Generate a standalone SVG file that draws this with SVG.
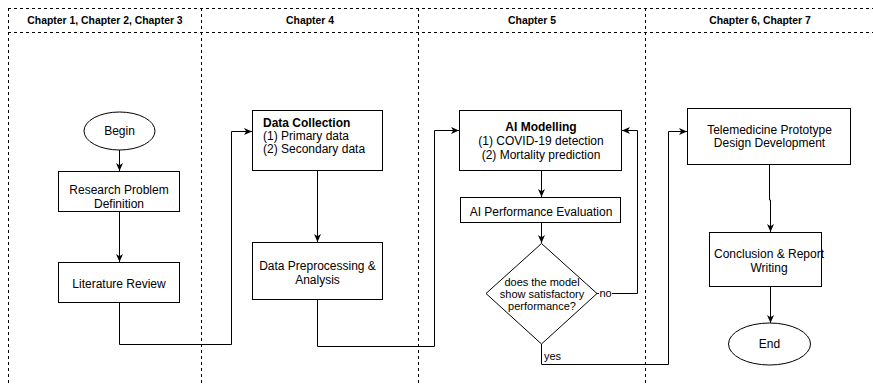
<svg xmlns="http://www.w3.org/2000/svg" width="873" height="384" viewBox="0 0 873 384">
<style>
.bg{fill:#fff}
.lane{stroke:#000;stroke-width:1;stroke-dasharray:3 3;fill:none}
.hdr{font-family:"Liberation Sans",Arial,sans-serif;font-size:10.4px;font-weight:bold;fill:#000;text-anchor:middle}
.box{fill:#fff;stroke:#000;stroke-width:1}
.t{font-family:"Liberation Sans",Arial,sans-serif;font-size:12px;fill:#000;text-anchor:middle}
.tl{font-family:"Liberation Sans",Arial,sans-serif;font-size:12px;fill:#000}
.b{font-weight:bold}
.s{font-family:"Liberation Sans",Arial,sans-serif;font-size:11px;fill:#000;text-anchor:middle}
.sl{font-family:"Liberation Sans",Arial,sans-serif;font-size:11px;fill:#000}
.c{fill:none;stroke:#000;stroke-width:1;marker-end:url(#arr)}
</style>
<defs>
<marker id="arr" viewBox="0 0 8 8" refX="8" refY="4" markerWidth="8" markerHeight="8" markerUnits="userSpaceOnUse" orient="auto">
<path d="M0,0.5 L8,4 L0,7.5 L2.2,4 Z" fill="#000"/>
</marker>
</defs>
<rect class="bg" x="0" y="0" width="873" height="384"/>
<g id="lanes">
<line class="lane" x1="8" y1="8.5" x2="873" y2="8.5"/>
<line class="lane" x1="8" y1="32.5" x2="873" y2="32.5"/>
<line class="lane" x1="8.5" y1="8" x2="8.5" y2="384"/>
<line class="lane" x1="201.5" y1="8" x2="201.5" y2="384"/>
<line class="lane" x1="418.5" y1="8" x2="418.5" y2="384"/>
<line class="lane" x1="645.5" y1="8" x2="645.5" y2="384"/>
<text class="hdr" x="105" y="24">Chapter 1, Chapter 2, Chapter 3</text>
<text class="hdr" x="310" y="24">Chapter 4</text>
<text class="hdr" x="532" y="24">Chapter 5</text>
<text class="hdr" x="760" y="24">Chapter 6, Chapter 7</text>
</g>
<g id="connectors">
<path class="c" d="M119.5,150 L119.5,171"/>
<path class="c" d="M119.5,212 L119.5,262"/>
<path class="c" d="M119.5,303 L119.5,344.5 L231.5,344.5 L231.5,131.5 L252,131.5"/>
<path class="c" d="M317.5,171 L317.5,242"/>
<path class="c" d="M317.5,300 L317.5,346.5 L434.5,346.5 L434.5,130.5 L459,130.5"/>
<path class="c" d="M541.5,171 L541.5,197"/>
<path class="c" d="M541.5,223 L541.5,243"/>
<path class="c" d="M597,293.5 L637.5,293.5 L637.5,130.5 L622,130.5"/>
<path class="c" d="M541.5,344 L541.5,364.5 L668.5,364.5 L668.5,131.5 L687,131.5"/>
<path class="c" d="M769.5,165 L769.5,200 L770.5,200 L770.5,232"/>
<path class="c" d="M770.5,287 L770.5,323"/>
<rect x="599" y="287" width="13" height="12" fill="#fff"/>
<text class="sl" x="599.5" y="297">no</text>
<text class="sl" x="544" y="360">yes</text>
</g>
<g id="begin">
<ellipse class="box" cx="119.5" cy="131" rx="35.5" ry="19"/>
<text class="t" x="119.5" y="135">Begin</text>
</g>
<g id="research">
<rect class="box" x="58.5" y="171.5" width="121" height="40"/>
<text class="t" x="119" y="194">Research Problem</text>
<text class="t" x="119" y="207.5">Definition</text>
</g>
<g id="literature">
<rect class="box" x="58.5" y="262.5" width="121" height="40"/>
<text class="t" x="119" y="287.5">Literature Review</text>
</g>
<g id="datacollection">
<rect class="box" x="252.5" y="110.5" width="130" height="60"/>
<text class="tl b" x="263" y="126.5">Data Collection</text>
<text class="tl" x="263" y="139.5">(1) Primary data</text>
<text class="tl" x="263" y="152.5">(2) Secondary data</text>
</g>
<g id="datapreprocessing">
<rect class="box" x="252.5" y="242.5" width="130" height="57"/>
<text class="t" x="317.5" y="270">Data Preprocessing &amp;</text>
<text class="t" x="317.5" y="284">Analysis</text>
</g>
<g id="aimodelling">
<rect class="box" x="459.5" y="110.5" width="162" height="60"/>
<text class="t b" x="541" y="131">AI Modelling</text>
<text class="t" x="541" y="145">(1) COVID-19 detection</text>
<text class="t" x="541" y="158.5">(2) Mortality prediction</text>
</g>
<g id="aiperformance">
<rect class="box" x="460.5" y="197.5" width="160" height="25"/>
<text class="t" x="541" y="215.5">AI Performance Evaluation</text>
</g>
<g id="decision">
<polygon class="box" points="541.5,243.5 597,293.5 541.5,344 486,293.5"/>
<text class="s" x="542" y="286">does the model</text>
<text class="s" x="542" y="298">show satisfactory</text>
<text class="s" x="542" y="310">performance?</text>
</g>
<g id="telemedicine">
<rect class="box" x="687.5" y="108.5" width="163" height="56"/>
<text class="t" x="769.5" y="134">Telemedicine Prototype</text>
<text class="t" x="769.5" y="147">Design Development</text>
</g>
<g id="conclusion">
<rect class="box" x="709.5" y="232.5" width="112" height="54"/>
<text class="t" x="769" y="258">Conclusion &amp; Report</text>
<text class="t" x="769" y="272">Writing</text>
</g>
<g id="end">
<ellipse class="box" cx="769.5" cy="344" rx="41" ry="21"/>
<text class="t" x="769.5" y="348">End</text>
</g>
</svg>
